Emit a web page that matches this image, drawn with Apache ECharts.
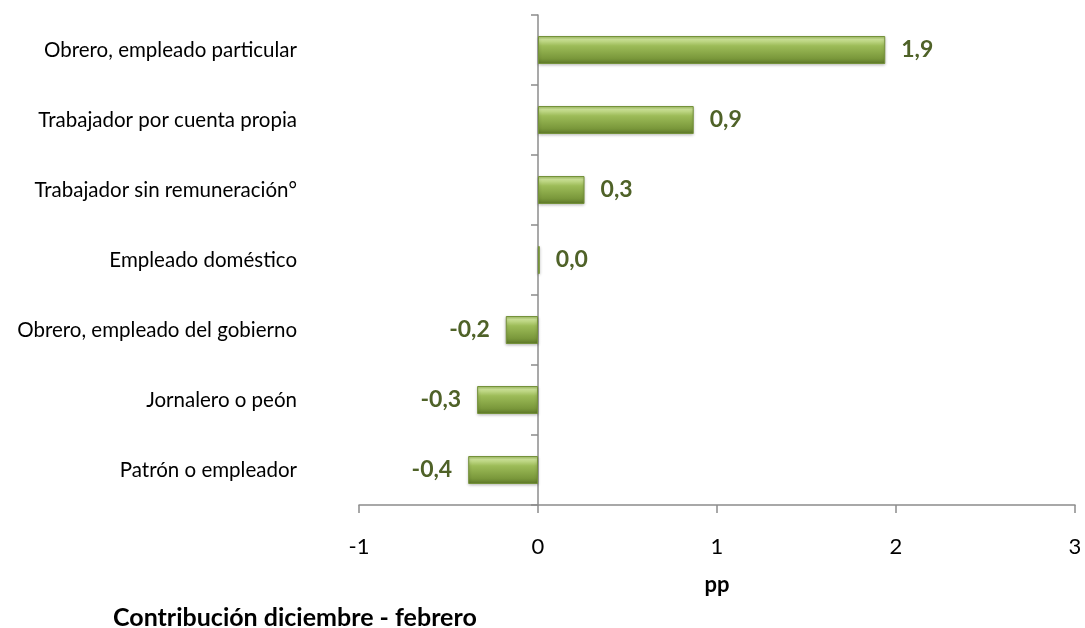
<!DOCTYPE html>
<html>
<head>
<meta charset="utf-8">
<script src="https://cdn.jsdelivr.net/npm/echarts@6/dist/echarts.min.js"></script>
<style>
html,body{margin:0;padding:0;background:#fff;}
#chart{width:1085px;height:628px;}
</style>
</head>
<body>
<div id="chart"></div>
<script>
const categories = [
  'Obrero, empleado particular',
  'Trabajador por cuenta propia',
  'Trabajador sin remuneración°',
  'Empleado doméstico',
  'Obrero, empleado del gobierno',
  'Jornalero o peón',
  'Patrón o empleador'
];
const values = [1.94, 0.87, 0.26, 0.01, -0.18, -0.34, -0.39];
const xTicks = { min: -1, max: 3, interval: 1 };
const axisTitle = 'pp';
const chartTitle = 'Contribución diciembre - febrero';

const FONT = 'Lato, "Open Sans", sans-serif';
const fmt = v => (Math.round(v * 10) / 10).toFixed(1).replace('.', ',');

const barColor = new echarts.graphic.LinearGradient(0, 0, 0, 1, [
  { offset: 0, color: '#a3c260' },
  { offset: 0.12, color: '#cbe196' },
  { offset: 0.35, color: '#9dbc58' },
  { offset: 0.8, color: '#7a983b' },
  { offset: 1, color: '#5e7829' }
]);

const chart = echarts.init(document.getElementById('chart'));
chart.setOption({
  animation: false,
  backgroundColor: '#ffffff',
  title: {
    text: chartTitle,
    left: 108,
    top: 600,
    textStyle: { fontFamily: FONT, fontWeight: 'bold', fontSize: 25, color: '#000' }
  },
  grid: { left: 359, right: 10, top: 15, bottom: 123, containLabel: false, outerBoundsMode: 'none' },
  xAxis: {
    type: 'value',
    min: xTicks.min,
    max: xTicks.max,
    interval: xTicks.interval,
    name: axisTitle,
    nameLocation: 'middle',
    nameGap: 69,
    nameTextStyle: { fontFamily: FONT, fontWeight: 'bold', fontSize: 22, color: '#000' },
    axisLine: { show: true, lineStyle: { color: '#8c8c8c', width: 1.5 } },
    axisTick: { show: true, length: 8, lineStyle: { color: '#8c8c8c', width: 1.5 } },
    axisLabel: { margin: 31, fontFamily: FONT, fontSize: 22, color: '#000' },
    splitLine: { show: false }
  },
  yAxis: {
    type: 'category',
    data: categories,
    inverse: true,
    axisLine: { show: true, onZero: true, lineStyle: { color: '#8c8c8c', width: 1.5 } },
    axisTick: { show: true, length: 7, lineStyle: { color: '#8c8c8c', width: 1.5 } },
    axisLabel: { margin: 62, fontFamily: FONT, fontSize: 20.5, color: '#000' },
    splitLine: { show: false }
  },
  series: [{
    type: 'bar',
    barWidth: '40%',
    data: values.map(v => ({
      value: v,
      label: { position: v < 0 ? 'left' : 'right' }
    })),
    itemStyle: {
      color: barColor,
      borderColor: '#74913a',
      borderWidth: 1,
      shadowColor: 'rgba(0,0,0,0.25)',
      shadowBlur: 3,
      shadowOffsetY: 1
    },
    label: {
      show: true,
      distance: 16,
      formatter: p => fmt(p.value),
      fontFamily: FONT,
      fontWeight: 'bold',
      fontSize: 23,
      color: '#4f6228'
    }
  }]
});
</script>
</body>
</html>
